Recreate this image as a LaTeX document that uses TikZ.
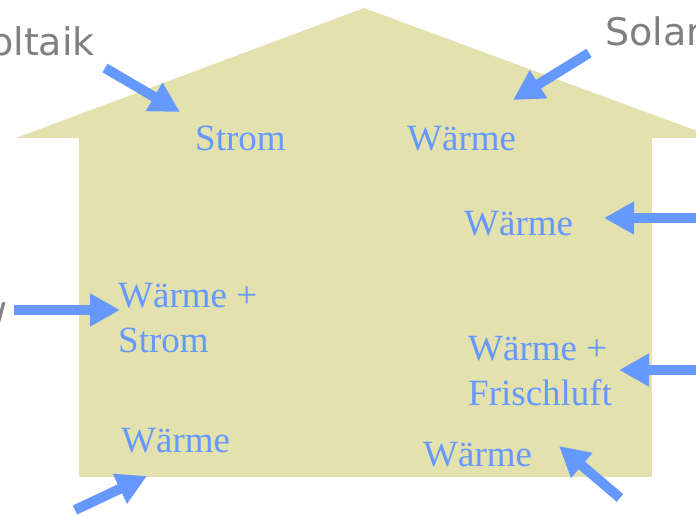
\documentclass[tikz,border=0pt]{standalone}
\usepackage{fontspec}
\setmainfont{Liberation Serif}
\newfontfamily\labelfont{DejaVu Sans}
\usetikzlibrary{arrows.meta}
\definecolor{housefill}{RGB}{227,225,173}
\definecolor{flowblue}{RGB}{102,153,255}
\definecolor{sourcegray}{RGB}{128,128,128}
\tikzset{
  px/.style={x=1pt,y=-1pt},
  house/.style={fill=housefill,draw=none},
  flow/.style={draw=flowblue,line width=10pt,
    -{Triangle[length=30pt,width=31pt]}},
  use/.style={text=flowblue,font=\fontsize{37}{44.5}\selectfont,
    inner sep=0pt,anchor=base west,align=left},
  source/.style={text=sourcegray,font=\labelfont\fontsize{38}{46}\selectfont,
    inner sep=0pt}
}
\begin{document}
\begin{tikzpicture}[px]
\useasboundingbox (0,0) rectangle (696,515);
\begin{scope}
\clip (0,0) rectangle (696,515);
% house: roof and walls
\fill[house] (16,138) -- (364,8) -- (716,138) -- cycle;
\fill[house] (79,137) rectangle (652,477);

% energy sources (outside)
\node[source,anchor=base east] (pv) at (95,55) {oltaik};
\node[source,anchor=base west] (st) at (605,45) {Solar};
\node[source,anchor=base east] (bhkw) at (8,323) {w};

% uses inside the house (two-line nodes sit on their last baseline)
\node[use] (u1) at (195,150) {Strom};
\node[use] (u2) at (407,150) {Wärme};
\node[use] (u3) at (464,235) {Wärme};
\node[use] (u4) at (118,352) {Wärme +\\Strom};
\node[use] (u5) at (468,405) {Wärme +\\Frischluft};
\node[use] (u6) at (121,452) {Wärme};
\node[use] (u7) at (423,466) {Wärme};

% arrow end points
\coordinate (a1s) at (105,68);  \coordinate (a1e) at (180,112);
\coordinate (a2s) at (589,53);  \coordinate (a2e) at (513,100);
\coordinate (a3s) at (710,218); \coordinate (a3e) at (604,218);
\coordinate (a4s) at (710,370); \coordinate (a4e) at (619,370);
\coordinate (a5s) at (14,310);  \coordinate (a5e) at (120,310);
\coordinate (a6s) at (75,510);  \coordinate (a6e) at (147,476);
\coordinate (a7s) at (620,498); \coordinate (a7e) at (559,446);

\draw[flow] (a1s) -- (a1e);
\draw[flow] (a2s) -- (a2e);
\draw[flow] (a3s) -- (a3e);
\draw[flow] (a4s) -- (a4e);
\draw[flow] (a5s) -- (a5e);
\draw[flow] (a6s) -- (a6e);
\draw[flow] (a7s) -- (a7e);
\end{scope}
\end{tikzpicture}
\end{document}
